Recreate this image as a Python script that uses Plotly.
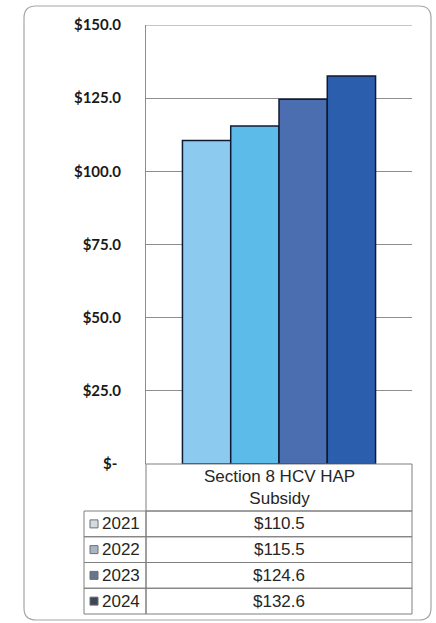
import plotly.graph_objects as go

W, H = 436, 623

category = "Section 8 HCV HAP Subsidy"
category_label = "Section 8 HCV HAP<br>Subsidy"
years = ["2021", "2022", "2023", "2024"]
values = [110.5, 115.5, 124.6, 132.6]
bar_colors = ["#8ccbef", "#5cbbe8", "#4a6eb0", "#2b5fae"]
key_colors = ["#d3dbe0", "#a9b6c2", "#66758a", "#3d4657"]
tick_vals = [0, 25, 50, 75, 100, 125, 150]
tick_text = ["$-\u00a0", "$25.0", "$50.0", "$75.0", "$100.0", "$125.0", "$150.0"]

# layout geometry (pixels)
PLOT_L, PLOT_R, PLOT_T, PLOT_B = 146, 412, 25, 464
TAB_L = 84
HEADER_H = 47
ROW_H = 25.75
GRID = "#8e8e8e"
TAB_LINE = "#7f7f7f"
TXT = "#262626"
TAB_FONT = "Liberation Sans, Arial"


def px_x(x):
    return x / W


def px_y(y):
    return 1 - y / H


fig = go.Figure()

for yr, v, c in zip(years, values, bar_colors):
    fig.add_trace(go.Bar(
        x=[category], y=[v], name=yr,
        marker=dict(color=c, line=dict(color="#111a33", width=1.5)),
        showlegend=False, hoverinfo="skip",
    ))

shapes = []
annotations = []

# top gridline at the axis maximum
shapes.append(dict(type="line", xref="x domain", yref="y", x0=0, x1=1,
                   y0=tick_vals[-1], y1=tick_vals[-1],
                   line=dict(color=GRID, width=1)))

# data table: header cell
hdr_top = PLOT_B
hdr_bot = PLOT_B + HEADER_H
shapes.append(dict(type="rect", xref="paper", yref="paper",
                   x0=px_x(PLOT_L), x1=px_x(PLOT_R), y0=px_y(hdr_bot), y1=px_y(hdr_top),
                   line=dict(color=TAB_LINE, width=1), fillcolor="rgba(0,0,0,0)"))
annotations.append(dict(xref="paper", yref="paper", x=px_x((PLOT_L + PLOT_R) / 2),
                        y=px_y((hdr_top + hdr_bot) / 2), text=category_label,
                        showarrow=False, xanchor="center", yanchor="middle",
                        font=dict(family=TAB_FONT, size=17, color=TXT)))

# data table: rows
for i, (yr, v, kc) in enumerate(zip(years, values, key_colors)):
    top = hdr_bot + i * ROW_H
    bot = top + ROW_H
    mid = (top + bot) / 2
    for xl, xr in ((TAB_L, PLOT_L), (PLOT_L, PLOT_R)):
        shapes.append(dict(type="rect", xref="paper", yref="paper",
                           x0=px_x(xl), x1=px_x(xr), y0=px_y(bot), y1=px_y(top),
                           line=dict(color=TAB_LINE, width=1), fillcolor="rgba(0,0,0,0)"))
    # legend key
    shapes.append(dict(type="rect", xref="paper", yref="paper",
                       x0=px_x(TAB_L + 6), x1=px_x(TAB_L + 14),
                       y0=px_y(mid + 4), y1=px_y(mid - 4),
                       line=dict(color="#6f6f6f", width=1), fillcolor=kc))
    annotations.append(dict(xref="paper", yref="paper", x=px_x(TAB_L + 16), y=px_y(mid),
                            text=yr, showarrow=False, xanchor="left", yanchor="middle",
                            font=dict(family=TAB_FONT, size=17, color=TXT)))
    annotations.append(dict(xref="paper", yref="paper", x=px_x((PLOT_L + PLOT_R) / 2),
                            y=px_y(mid), text=f"${v:.1f}", showarrow=False,
                            xanchor="center", yanchor="middle",
                            font=dict(family=TAB_FONT, size=17, color=TXT)))

# rounded outer border
x0, y0, x1, y1, r = px_x(24), px_y(6), px_x(431), px_y(620), 12
rx, ry = r / W, r / H
path = (f"M {x0+rx},{y0} L {x1-rx},{y0} Q {x1},{y0} {x1},{y0-ry} "
        f"L {x1},{y1+ry} Q {x1},{y1} {x1-rx},{y1} "
        f"L {x0+rx},{y1} Q {x0},{y1} {x0},{y1+ry} "
        f"L {x0},{y0-ry} Q {x0},{y0} {x0+rx},{y0} Z")
shapes.append(dict(type="path", path=path, xref="paper", yref="paper",
                   line=dict(color="#a6a6a6", width=1.2), layer="below"))

fig.update_layout(
    width=W, height=H,
    margin=dict(l=0, r=0, t=0, b=0, autoexpand=False),
    paper_bgcolor="white", plot_bgcolor="white",
    barmode="group", bargap=0.274, bargroupgap=0,
    shapes=shapes, annotations=annotations,
    xaxis=dict(domain=[px_x(PLOT_L), px_x(PLOT_R)], showticklabels=False,
               showline=False, showgrid=False, zeroline=False, fixedrange=True,
               automargin=False),
    yaxis=dict(domain=[px_y(PLOT_B), px_y(PLOT_T)], range=[0, 150],
               tickvals=tick_vals, ticktext=tick_text,
               showgrid=True, gridcolor=GRID, gridwidth=1,
               showline=True, linecolor=GRID, linewidth=1,
               zeroline=False, ticks="", ticklabelstandoff=21, automargin=False,
               tickfont=dict(family="Lato", size=15, color="#1a1a1a", weight="bold")),
)

fig.write_html("out.html")
